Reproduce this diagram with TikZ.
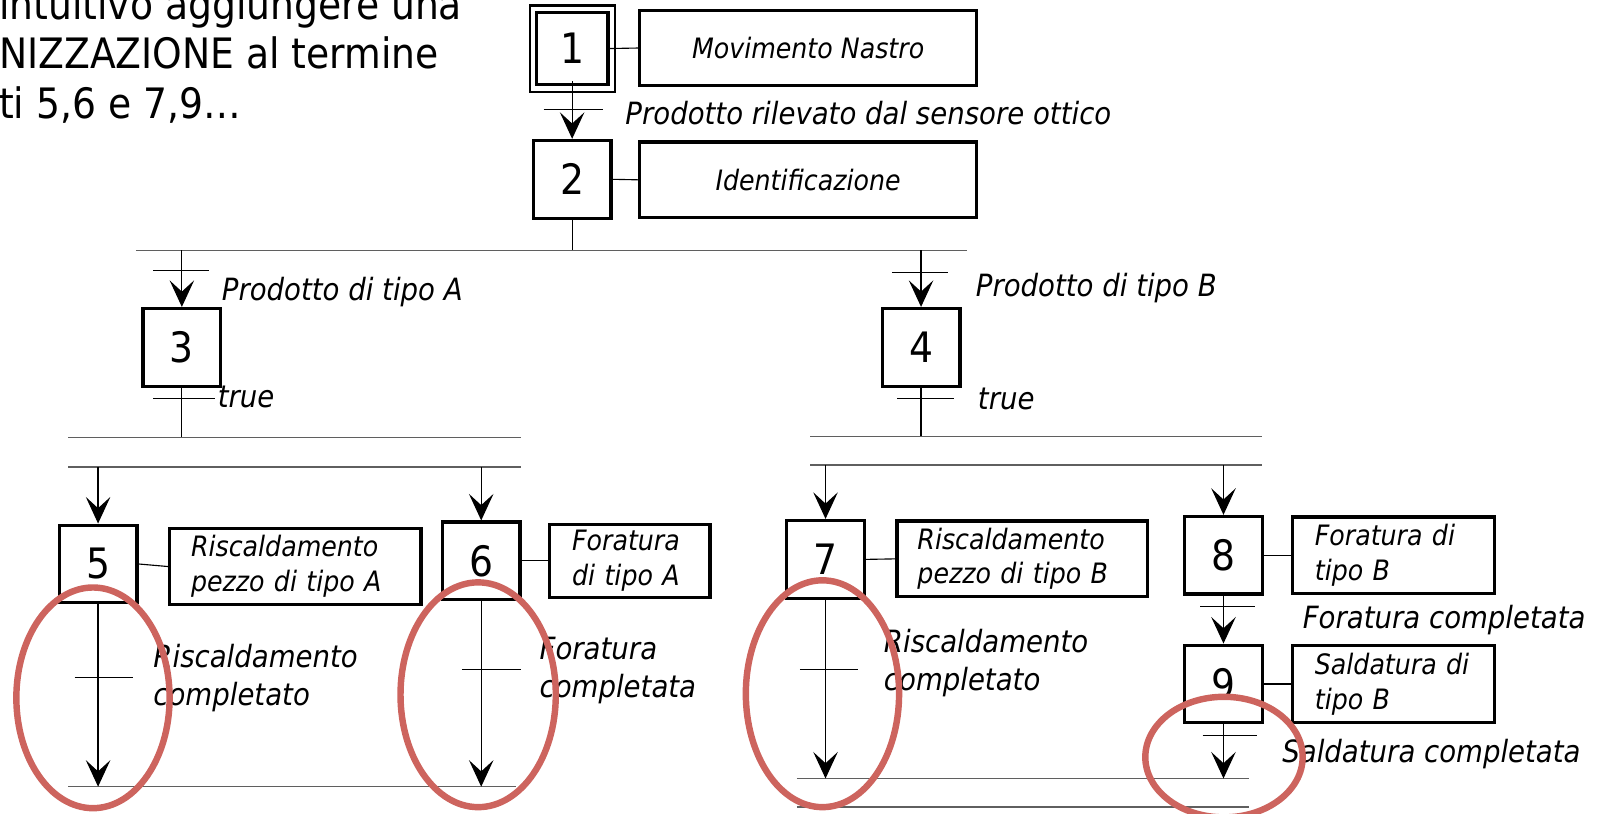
\documentclass[tikz,border=0pt]{standalone}
\usepackage{fontspec}
\setmainfont{DejaVu Sans Condensed}[ItalicFont={DejaVu Sans Condensed Oblique}]
\usetikzlibrary{arrows.meta}
\definecolor{ringred}{RGB}{205,100,94}
\definecolor{syncgray}{RGB}{95,95,95}

\begin{document}
\begin{tikzpicture}[x=1pt,y=-1pt,
  stepbox/.style={draw, line width=3.2pt, minimum width=76pt, minimum height=76pt,
    inner sep=0pt, font=\fontsize{41}{41}\selectfont},
  actbox/.style={draw, line width=3.2pt, inner ysep=0pt, align=left,
    font=\fontsize{27.5}{34}\selectfont\itshape},
  lbl/.style={anchor=west, inner sep=0pt, align=left,
    font=\fontsize{30}{37}\selectfont\itshape},
  notetext/.style={anchor=base west, inner sep=0pt, font=\fontsize{41}{48}\selectfont},
  wire/.style={line width=1.1pt},
  tick/.style={line width=1.1pt},
  sync/.style={line width=1.4pt, draw=syncgray},
  flow/.style={line width=1.2pt, -{Stealth[length=26pt,width=24pt,inset=11pt]}},
  ring/.style={draw=ringred, line width=6.3pt},
]
\useasboundingbox (0,0) rectangle (1568,796);

% note text in the corner
\node[notetext] (note1) at (-1,19) {intuitivo aggiungere una};
\node[notetext] (note2) at (-1,67.5) {NIZZAZIONE al termine};
\node[notetext] (note3) at (-1,116) {ti 5,6 e 7,9…};

% steps
\node[stepbox, minimum width=70pt, minimum height=71pt] (s1) at (560,47.5) {1};
\draw[line width=2pt] ([shift={(-5,-5)}]s1.north west) rectangle ([shift={(5,5)}]s1.south east);
\node[stepbox] (s2) at (560,175.5) {2};
\node[stepbox] (s3) at (178,340) {3};
\node[stepbox] (s4) at (901.5,340) {4};
\node[stepbox] (s5) at (96,552) {5};
\node[stepbox] (s6) at (471,549) {6};
\node[stepbox] (s7) at (808,547.5) {7};
\node[stepbox] (s8) at (1197.5,543.5) {8};
\node[stepbox] (s9) at (1197.5,669.5) {9};

% actions
\node[actbox, align=center, minimum width=330pt, minimum height=74pt] (a1) at (791,47) {Movimento Nastro};
\node[actbox, align=center, minimum width=330pt, minimum height=74pt] (a2) at (791,176) {Identificazione};
\node[actbox, minimum width=246pt, minimum height=75pt, inner xsep=21pt, text width=204pt] (a5) at (289,554.5) {Riscaldamento\\pezzo di tipo A};
\node[actbox, minimum width=157pt, minimum height=72pt, inner xsep=22pt, text width=113pt] (a6) at (616.5,549) {Foratura\\di tipo A};
\node[actbox, minimum width=245pt, minimum height=74pt, inner xsep=20pt, text width=205pt] (a7) at (1000.5,547) {Riscaldamento\\pezzo di tipo B};
\node[actbox, minimum width=198pt, minimum height=75pt, inner xsep=22pt, text width=154pt] (a8) at (1364,543.5) {Foratura di\\tipo B};
\node[actbox, minimum width=198pt, minimum height=75pt, inner xsep=22pt, text width=154pt] (a9) at (1364,669.5) {Saldatura di\\tipo B};

\foreach \s/\a in {s1/a1,s2/a2,s5/a5,s6/a6,s7/a7,s8/a8,s9/a9}
  \draw[wire] (\s.east) -- (\a.west);

% divergence / convergence lines
\coordinate (or-w) at (133,245);   \coordinate (or-e) at (946,245);
\coordinate (pa-w) at (67,428);    \coordinate (pa-e) at (510,428);
\coordinate (pb-w) at (67,457);    \coordinate (pb-e) at (510,457);
\coordinate (pc-w) at (793,427);   \coordinate (pc-e) at (1235,427);
\coordinate (pd-w) at (793,455);   \coordinate (pd-e) at (1235,455);
\coordinate (ja-w) at (67,770);    \coordinate (ja-e) at (505,770);
\coordinate (jb-w) at (780,762);   \coordinate (jb-e) at (1222,762);
\coordinate (jc-w) at (780,790);   \coordinate (jc-e) at (1222,790);
\foreach \p in {or,pa,pb,pc,pd,ja,jb,jc}
  \draw[sync] (\p-w) -- (\p-e);

% flow
\draw[flow] ([yshift=5]s1.south) -- (s2.north);
\draw[wire] (s2.south) -- (s2.south |- or-w);
\draw[flow] (s3.north |- or-w) -- (s3.north);
\draw[flow] (s4.north |- or-w) -- (s4.north);
\draw[wire] (s3.south) -- (s3.south |- pa-w);
\draw[wire] (s4.south) -- (s4.south |- pc-w);
\draw[flow] (s5.north |- pb-w) -- (s5.north);
\draw[flow] (s6.north |- pb-w) -- (s6.north);
\draw[flow] (s7.north |- pd-w) -- (s7.north);
\draw[flow] (s8.north |- pd-w) -- (s8.north);
\draw[flow] (s8.south) -- (s9.north);
\draw[flow] (s5.south) -- (s5.south |- ja-w);
\draw[flow] (s6.south) -- (s6.south |- ja-w);
\draw[flow] (s7.south) -- (s7.south |- jb-w);
\draw[flow] (s9.south) -- (s9.south |- jb-w);

% transition bars
\draw[tick] (532,107) -- (590,107);
\draw[tick] (150,265) -- (205,265);
\draw[tick] (150,390) -- (210,390);
\draw[tick] (873,267) -- (928,267);
\draw[tick] (878,390) -- (934,390);
\draw[tick] (73,663) -- (130,663);
\draw[tick] (452,655) -- (510,655);
\draw[tick] (783,655) -- (840,655);
\draw[tick] (1175,594) -- (1228,594);
\draw[tick] (1177,720) -- (1230,720);

% receptivities
\node[lbl] (r1) at (612,111) {Prodotto rilevato dal sensore ottico};
\node[lbl] (r2) at (217,286) {Prodotto di tipo A};
\node[lbl] (r3) at (213,389) {true};
\node[lbl] (r4) at (955,282) {Prodotto di tipo B};
\node[lbl] (r5) at (957,390) {true};
\node[lbl] (r6) at (150,664) {Riscaldamento\\completato};
\node[lbl] (r7) at (528,656.5) {Foratura\\completata};
\node[lbl] (r8) at (865,649) {Riscaldamento\\completato};
\node[lbl] (r9) at (1275,607) {Foratura completata};
\node[lbl] (r10) at (1255,738) {Saldatura completata};

% highlight rings
\draw[ring] (91,683) ellipse [x radius=75pt, y radius=108pt];
\draw[ring] (468,680) ellipse [x radius=76pt, y radius=110pt];
\draw[ring] (805,679) ellipse [x radius=75pt, y radius=111pt];
\draw[ring] (1198,741) ellipse [x radius=77pt, y radius=59pt];
\end{tikzpicture}
\end{document}
